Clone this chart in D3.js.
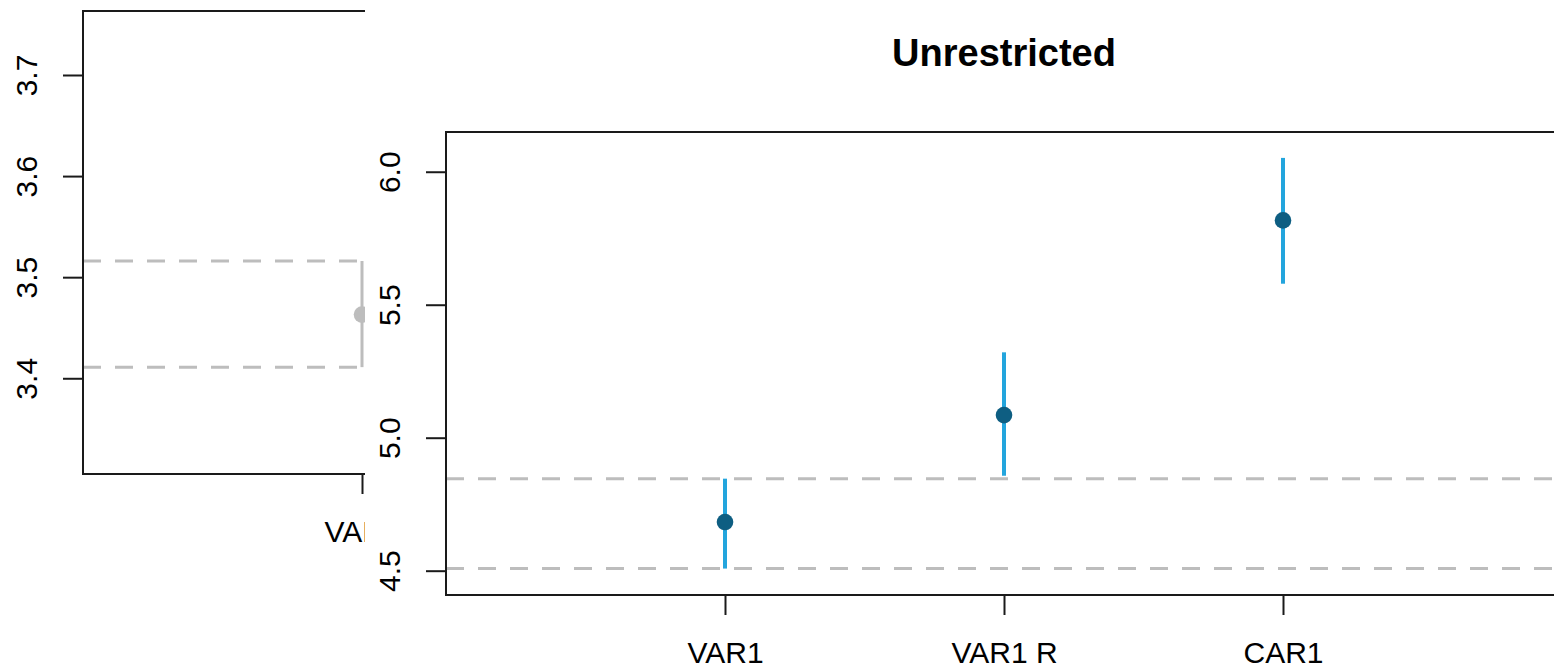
<!DOCTYPE html>
<html>
<head>
<meta charset="utf-8">
<script src="https://cdn.jsdelivr.net/npm/d3@7"></script>
<style>
  html, body { margin: 0; padding: 0; background: #fff; }
  svg { display: block; }
  text { font-family: "Liberation Sans", Arial, Helvetica, sans-serif; fill: #000; }
</style>
</head>
<body>
<svg id="chart" width="1554" height="668"></svg>
<script>
// Interval estimates per model (restricted panel, partly hidden behind the unrestricted one)
const restrictedCategories = ["VAR1", "VAR1 R", "CAR1"];
const restrictedEstimate = [3.463];
const restrictedLower = [3.411];
const restrictedUpper = [3.516];
const restrictedTicks = [3.4, 3.5, 3.6, 3.7];

// Unrestricted panel
const categories = ["VAR1", "VAR1 R", "CAR1"];
const estimate = [4.683, 5.085, 5.817];
const lower = [4.508, 4.857, 5.579];
const upper = [4.846, 5.321, 6.052];
const yTicks = [4.5, 5.0, 5.5, 6.0];
const title = "Unrestricted";

const svg = d3.select("#chart");

function drawPanel(opts) {
  const g = svg.append("g");
  const x = d3.scaleLinear().domain([0, opts.categories.length + 1])
    .range([opts.left, opts.left + 1116]);
  const y = d3.scaleLinear().domain(opts.yDomain).range([opts.bottom, opts.top]);

  // reference band: the first model's interval bounds
  const refs = [opts.lower[0], opts.upper[0]];
  g.selectAll("line.ref").data(refs).join("line")
    .attr("class", "ref")
    .attr("x1", x.range()[0]).attr("x2", x.range()[1])
    .attr("y1", d => y(d)).attr("y2", d => y(d))
    .attr("stroke", "#bdbdbd").attr("stroke-width", 3)
    .attr("stroke-dasharray", "18,14");

  // interval bars
  g.selectAll("line.bar").data(opts.est).join("line")
    .attr("class", "bar")
    .attr("x1", (d, i) => x(i + 1)).attr("x2", (d, i) => x(i + 1))
    .attr("y1", (d, i) => y(opts.lower[i])).attr("y2", (d, i) => y(opts.upper[i]))
    .attr("stroke", opts.barColor).attr("stroke-width", opts.barWidth);

  // point estimates
  g.selectAll("circle.pt").data(opts.est).join("circle")
    .attr("class", "pt")
    .attr("cx", (d, i) => x(i + 1)).attr("cy", d => y(d))
    .attr("r", 8.3).attr("fill", opts.pointColor);

  // y axis with rotated labels
  const ya = g.append("g").attr("transform", `translate(${opts.left},0)`)
    .call(d3.axisLeft(y).tickValues(opts.ticks).tickFormat(d3.format(".1f"))
      .tickSize(20).tickSizeOuter(0));
  ya.select(".domain").remove();
  ya.selectAll(".tick line").attr("stroke", "#1a1a1a").attr("stroke-width", 2);
  ya.selectAll(".tick text")
    .attr("transform", "rotate(-90)")
    .attr("x", 0).attr("y", -46).attr("dy", 0)
    .attr("text-anchor", "middle")
    .style("font-size", "30px").attr("fill", "#000");

  // x axis
  const xa = g.append("g").attr("transform", `translate(0,${opts.bottom})`)
    .call(d3.axisBottom(x).tickValues(d3.range(1, opts.categories.length + 1))
      .tickFormat(d => opts.categories[d - 1]).tickSize(20).tickSizeOuter(0));
  xa.select(".domain").remove();
  xa.selectAll(".tick line").attr("stroke", "#1a1a1a").attr("stroke-width", 2);
  xa.selectAll(".tick text").attr("y", 68).attr("dy", 0)
    .style("font-size", "30px").attr("fill", "#000");

  // plot frame
  g.append("rect")
    .attr("x", x.range()[0]).attr("y", opts.top)
    .attr("width", x.range()[1] - x.range()[0]).attr("height", opts.bottom - opts.top)
    .attr("fill", "none").attr("stroke", "#1a1a1a").attr("stroke-width", 2);

  if (opts.title) {
    g.append("text")
      .attr("x", (x.range()[0] + x.range()[1]) / 2).attr("y", opts.top - 66)
      .attr("text-anchor", "middle")
      .style("font-size", "38px").style("font-weight", "bold")
      .text(opts.title);
  }
}

// restricted panel (behind)
drawPanel({
  left: 83, top: 11, bottom: 474,
  yDomain: [3.3053, 3.7633],
  ticks: restrictedTicks,
  categories: restrictedCategories,
  est: restrictedEstimate, lower: restrictedLower, upper: restrictedUpper,
  barColor: "#bdbdbd", barWidth: 3, pointColor: "#bdbdbd"
});

// unrestricted panel sheet covers the right part
svg.append("rect").attr("x", 365).attr("y", 0)
  .attr("width", 1554 - 365).attr("height", 668).attr("fill", "#fff");

drawPanel({
  left: 446, top: 132, bottom: 595,
  yDomain: [4.4086, 6.1494],
  ticks: yTicks,
  categories: categories,
  est: estimate, lower: lower, upper: upper,
  barColor: "#23a5dd", barWidth: 4, pointColor: "#0e5e82",
  title: title
});
</script>
</body>
</html>
